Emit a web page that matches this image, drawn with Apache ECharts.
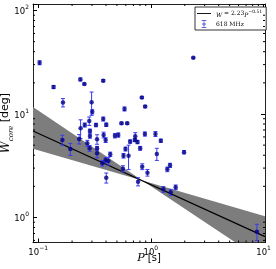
<!DOCTYPE html>
<html><head><meta charset="utf-8">
<script src="https://cdn.jsdelivr.net/npm/echarts@6/dist/echarts.min.js"></script>
<style>html,body{margin:0;padding:0;background:#fff}#c{width:276px;height:269px}</style>
</head><body><div id="c"></div>
<script>
// ---- data ----
const periods = [0.103,0.137,0.166,0.237,0.257,0.378,0.298,0.302,0.584,0.238,0.259,0.284,0.326,0.378,0.402,0.381,0.48,0.514,0.549,0.617,
  0.164,0.193,0.231,0.273,0.286,0.288,0.288,0.333,0.333,0.333,0.371,0.397,0.397,0.402,0.42,0.436,0.565,0.572,0.596,0.634,
  0.655,0.721,0.761,0.77,0.727,0.804,0.885,1.098,1.226,1.13,0.838,0.933,1.40,1.48,1.97,1.29,1.50,1.66,8.73,2.38,0.832,0.89];
const widths = [31.3,18.2,12.9,21.6,19.5,21.0,13.0,10.5,11.2,7.28,7.83,8.55,7.83,8.95,7.88,6.27,6.17,6.27,8.13,8.13,
  5.61,4.59,5.73,5.21,4.66,6.85,6.13,5.7,4.66,4.17,3.34,5.6,3.59,2.42,3.51,4.08,2.96,3.95,4.59,3.95,
  5.41,5.6,5.36,2.22,6.1,4.66,6.41,6.41,5.52,4.11,3.10,2.71,2.92,3.19,4.27,1.87,1.75,1.96,0.729,35.0,14.4,11.8];
const widthErrs = [1.4,0.6,1.2,0.7,0.4,0.5,3.3,0.5,0.5,1.5,0.35,0.8,0.3,0.4,0.3,0.4,0.3,0.3,0.2,0.2,
  0.62,0.61,0.6,0.35,0.3,0.3,0.3,0.6,0.2,0.4,0.2,0.3,0.2,0.27,0.3,0.2,0.2,0.2,0.2,1.05,
  0.2,0.2,0.2,0.2,0.5,0.2,0.3,0.35,0.2,0.55,0.2,0.2,0.15,0.15,0.15,0.12,0.12,0.1,0.13,0.5,0.3,0.3];
const fitP = [0.09, 10.3];
const fitW = [6.85, 0.653];
const bandP = [0.09, 0.84, 10.3];
const bandUpper = [11.7, 2.28, 1.03];
const bandLower = [4.62, 2.28, 0.37];
const xTickValues = [0.1, 1, 10];
const xTickExps = ['\u22121', '0', '1'];
const yTickValues = [1, 10, 100];
const yTickExps = ['0', '1', '2'];
const xMinorTicks = [0.2,0.3,0.4,0.5,0.6,0.7,0.8,0.9,2,3,4,5,6,7,8,9];
const yMinorTicks = [0.6,0.7,0.8,0.9,2,3,4,5,6,7,8,9,20,30,40,50,60,70,80,90];
const seriesNames = ['fit', '618 MHz'];
const X_MIN = 0.09, X_MAX = 10.3, Y_MIN = 0.573, Y_MAX = 115.6;

const ptColor = '#00008b', errColor = '#3a3af2', bandColor = '#7d7d7d';
const sans = 'DejaVu Sans', serif = 'DejaVu Serif';

function tickFmt(vals, exps) {
  return function (v) {
    const i = vals.findIndex(t => Math.abs(Math.log10(v) - Math.log10(t)) < 1e-6);
    return i < 0 ? '' : '{b|10}{s|' + exps[i] + '}';
  };
}
const tickRich = {
  b: { fontSize: 8.5, fontFamily: sans, color: '#000', verticalAlign: 'bottom', lineHeight: 12 },
  s: { fontSize: 6, fontFamily: sans, color: '#000', verticalAlign: 'top', lineHeight: 12 }
};
const frame = { show: true, onZero: false, lineStyle: { color: '#222', width: 1 } };
const majorTick = { show: true, inside: true, length: 4, lineStyle: { color: '#000', width: 1 } };

const chart = echarts.init(document.getElementById('c'), null, { renderer: 'canvas' });
chart.setOption({
  animation: false,
  backgroundColor: '#fff',
  grid: { left: 33, top: 4, width: 232, height: 238.5, containLabel: false, outerBoundsMode: 'none' },
  xAxis: [
    { type: 'log', logBase: 10, min: X_MIN, max: X_MAX, position: 'bottom',
      axisLine: frame, axisTick: majorTick, splitLine: { show: false },
      axisLabel: { formatter: tickFmt(xTickValues, xTickExps), rich: tickRich, margin: 3, showMinLabel: false, showMaxLabel: true },
      name: '{i|P} {r|[s]}', nameLocation: 'middle', nameGap: 10, nameMoveOverlap: false,
      nameTextStyle: { verticalAlign: 'top', rich: { i: { fontFamily: serif, fontStyle: 'italic', fontSize: 11, color: '#000' },
                               r: { fontFamily: sans, fontSize: 10, color: '#000' } } } },
    { type: 'log', logBase: 10, min: X_MIN, max: X_MAX, position: 'top',
      axisLine: frame, axisTick: majorTick, axisLabel: { show: false }, splitLine: { show: false } }
  ],
  yAxis: [
    { type: 'log', logBase: 10, min: Y_MIN, max: Y_MAX, position: 'left',
      axisLine: frame, axisTick: majorTick, splitLine: { show: false },
      axisLabel: { formatter: tickFmt(yTickValues, yTickExps), rich: tickRich, margin: 4 },
      name: '{i|W}{sub|core} {r|[deg]}', nameLocation: 'middle', nameGap: 18, nameRotate: 90, nameMoveOverlap: false,
      nameTextStyle: { rich: {
        i: { fontFamily: serif, fontStyle: 'italic', fontSize: 12, color: '#000', verticalAlign: 'top', lineHeight: 15 },
        sub: { fontFamily: serif, fontStyle: 'italic', fontSize: 7, color: '#000', verticalAlign: 'bottom', lineHeight: 15 },
        r: { fontFamily: sans, fontSize: 11, color: '#000', verticalAlign: 'top', lineHeight: 15 } } } },
    { type: 'log', logBase: 10, min: Y_MIN, max: Y_MAX, position: 'right',
      axisLine: frame, axisTick: majorTick, axisLabel: { show: false }, splitLine: { show: false } }
  ],
  legend: {
    orient: 'vertical', left: 195, top: 7, padding: [2, 4, 2, 2], itemGap: 2,
    itemWidth: 14, itemHeight: 8, backgroundColor: '#fff', borderColor: '#000', borderWidth: 0.8,
    selectedMode: false,
    data: [
      { name: seriesNames[0], icon: 'path://M0,0H40V2.6H0Z', itemStyle: { color: '#000' } },
      { name: seriesNames[1], icon: 'path://M1,0H7V0.8H1Z M3.6,0H4.4V10H3.6Z M1,9.2H7V10H1Z M2,5A2,2 0 1 0 6,5A2,2 0 1 0 2,5Z', itemStyle: { color: '#1010c0' } }
    ],
    formatter: n => n === 'fit' ? '{i|W} = 2.23{i|P}{s|\u22120.51}' : '618 MHz',
    textStyle: { fontFamily: serif, fontSize: 6, color: '#000', rich: {
      i: { fontFamily: serif, fontStyle: 'italic', fontSize: 6, verticalAlign: 'bottom', lineHeight: 9 },
      s: { fontFamily: serif, fontSize: 4.5, verticalAlign: 'top', lineHeight: 9 } } }
  },
  series: [
    { type: 'custom', name: 'band', clip: true, silent: true, z: 1,
      data: [[bandP[0], bandUpper[0]]],
      renderItem: function (params, api) {
        const pts = [];
        for (let i = 0; i < bandP.length; i++) pts.push(api.coord([bandP[i], bandUpper[i]]));
        for (let i = bandP.length - 1; i >= 0; i--) pts.push(api.coord([bandP[i], bandLower[i]]));
        const cs = params.coordSys;
        return { type: 'polygon', shape: { points: pts }, style: { fill: bandColor },
                 clipPath: { type: 'rect', shape: { x: cs.x, y: cs.y, width: cs.width, height: cs.height } } };
      } },
    { type: 'line', name: seriesNames[0], data: fitP.map((p, i) => [p, fitW[i]]),
      symbol: 'none', lineStyle: { color: '#000', width: 1.2 }, z: 3 },
    { type: 'custom', name: 'err', z: 4, silent: true,
      data: periods.map((p, i) => [p, widths[i] - widthErrs[i], widths[i] + widthErrs[i]]),
      encode: { x: 0, y: [1, 2] },
      renderItem: function (params, api) {
        const a = api.coord([api.value(0), api.value(1)]);
        const b = api.coord([api.value(0), api.value(2)]);
        const cw = 2, st = { stroke: errColor, lineWidth: 1 };
        return { type: 'group', children: [
          { type: 'line', shape: { x1: a[0], y1: a[1], x2: b[0], y2: b[1] }, style: st },
          { type: 'line', shape: { x1: a[0] - cw, y1: a[1], x2: a[0] + cw, y2: a[1] }, style: st },
          { type: 'line', shape: { x1: b[0] - cw, y1: b[1], x2: b[0] + cw, y2: b[1] }, style: st } ] };
      } },
    { type: 'scatter', name: seriesNames[1], data: periods.map((p, i) => [p, widths[i]]),
      symbol: 'circle', symbolSize: 4.5, itemStyle: { color: ptColor }, z: 5 },
    { type: 'custom', name: 'xminor', z: 6, silent: true,
      data: xMinorTicks.map(v => [v, 1]),
      renderItem: function (params, api) {
        const x = api.coord([api.value(0), 1])[0], cs = params.coordSys;
        const st = { stroke: '#000', lineWidth: 1 };
        return { type: 'group', children: [
          { type: 'line', shape: { x1: x, y1: cs.y + cs.height, x2: x, y2: cs.y + cs.height - 2 }, style: st },
          { type: 'line', shape: { x1: x, y1: cs.y, x2: x, y2: cs.y + 2 }, style: st } ] };
      } },
    { type: 'custom', name: 'yminor', z: 6, silent: true,
      data: yMinorTicks.map(v => [1, v]),
      renderItem: function (params, api) {
        const y = api.coord([1, api.value(1)])[1], cs = params.coordSys;
        const st = { stroke: '#000', lineWidth: 1 };
        return { type: 'group', children: [
          { type: 'line', shape: { x1: cs.x, y1: y, x2: cs.x + 2, y2: y }, style: st },
          { type: 'line', shape: { x1: cs.x + cs.width, y1: y, x2: cs.x + cs.width - 2, y2: y }, style: st } ] };
      } }
  ]
});
</script></body></html>
